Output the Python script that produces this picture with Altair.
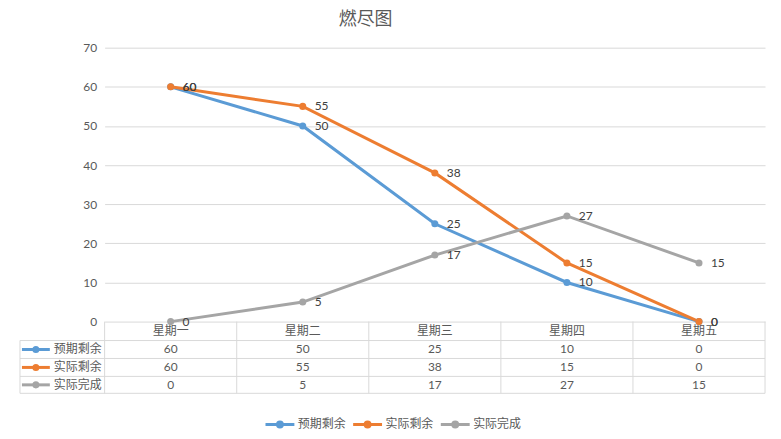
import altair as alt
import pandas as pd

# ---- data ----
categories = ["星期一", "星期二", "星期三", "星期四", "星期五"]
series = ["预期剩余", "实际剩余", "实际完成"]
planned = [60, 50, 25, 10, 0]
actual = [60, 55, 38, 15, 0]
done = [0, 5, 17, 27, 15]
colors = ["#5B9BD5", "#ED7D31", "#A5A5A5"]
y_ticks = [0, 10, 20, 30, 40, 50, 60, 70]
title_text = "燃尽图"

# ---- layout (pixels, relative to plot origin) ----
W, H = 663, 275
YMAX = 70
FONT = "Lato, 'Noto Sans CJK SC', sans-serif"
GRID = "#D9D9D9"
TXT = "#595959"


def yv(p):
    """pixel offset below plot top -> value on the y scale"""
    return (H - p) / H * YMAX


row_centers = [303, 321, 338.5]
header_center = 284.5
row_lines = [294, 312, 330, 347]

rows = []
for s, vals, rc in zip(series, [planned, actual, done], row_centers):
    for i, (c, v) in enumerate(zip(categories, vals)):
        rows.append(dict(series=s, cat=c, idx=i + 0.5, value=v, row_y=yv(rc)))
df = pd.DataFrame(rows)

df_cat = pd.DataFrame({"cat": categories, "idx": [i + 0.5 for i in range(len(categories))]})
df_side = pd.DataFrame({"series": series, "row_y": [yv(p) for p in row_centers]})
df_h = pd.DataFrame({"ly": [yv(p) for p in row_lines]})
df_v = pd.DataFrame({"b": list(range(len(categories) + 1))})
df_one = pd.DataFrame({"k": [0]})
df_title = pd.DataFrame({"t": [title_text]})

xscale = alt.Scale(domain=[0, len(categories)])
yscale = alt.Scale(domain=[0, YMAX], nice=False)
yaxis = alt.Axis(values=y_ticks, grid=True, ticks=False, domain=False, labelPadding=8,
                 labelFontSize=12, labelColor=TXT, labelFont=FONT, gridColor=GRID,
                 gridWidth=1, title=None)

legend = alt.Legend(
    title=None, orient="none", legendX=160, legendY=362, direction="horizontal",
    symbolType="M-1,0H1M0.17,0A0.17,0.17,0,1,1,-0.17,0A0.17,0.17,0,1,1,0.17,0",
    symbolSize=841, symbolStrokeWidth=3, labelFontSize=12, labelColor=TXT,
    labelFont=FONT, labelOffset=2, columnPadding=0,
)
color = alt.Color("series:N", scale=alt.Scale(domain=series, range=colors), legend=legend)


def X(f):
    return alt.X(f, scale=xscale, axis=None)


def Y(f):
    return alt.Y(f, scale=yscale, axis=yaxis)


base = alt.Chart(df)

lines = base.mark_line(strokeWidth=3).encode(x=X("idx:Q"), y=Y("value:Q"), color=color)
points = base.mark_point(filled=True, size=50, opacity=1).encode(
    x=X("idx:Q"), y=Y("value:Q"), color=color)
labels = base.mark_text(align="left", baseline="middle", dx=12, fontSize=12,
                        font=FONT, color="#404040").encode(
    x=X("idx:Q"), y=Y("value:Q"), text="value:Q")

header = alt.Chart(df_cat).mark_text(baseline="middle", fontSize=12, font=FONT, color=TXT).encode(
    x=X("idx:Q"), y=alt.value(header_center), text="cat:N")
cells = base.mark_text(baseline="middle", fontSize=12, font=FONT, color=TXT).encode(
    x=X("idx:Q"), y=Y("row_y:Q"), text="value:Q")

hlines = alt.Chart(df_h).mark_rule(color=GRID, strokeWidth=1).encode(
    x=alt.value(-85), x2=alt.value(W), y=Y("ly:Q"))
vlines = alt.Chart(df_v).mark_rule(color=GRID, strokeWidth=1).encode(
    x=X("b:Q"), y=alt.value(H), y2=alt.value(row_lines[-1]))
lborder = alt.Chart(df_one).mark_rule(color=GRID, strokeWidth=1).encode(
    x=alt.value(-85), y=alt.value(row_lines[0]), y2=alt.value(row_lines[-1]))

side_rule = alt.Chart(df_side).mark_rule(strokeWidth=3).encode(
    x=alt.value(-83), x2=alt.value(-55), y=Y("row_y:Q"), color=color)
side_pt = alt.Chart(df_side).mark_point(filled=True, size=50, opacity=1).encode(
    x=alt.value(-69), y=Y("row_y:Q"), color=color)
side_txt = alt.Chart(df_side).mark_text(align="left", baseline="middle", fontSize=12,
                                        font=FONT, color=TXT).encode(
    x=alt.value(-51), y=Y("row_y:Q"), text="series:N")

title = alt.Chart(df_title).mark_text(align="center", baseline="middle", fontSize=18,
                                      font=FONT, color=TXT).encode(
    x=alt.value(262), y=alt.value(-28), text="t:N")

chart = alt.layer(
    hlines, vlines, lborder, header, cells, side_rule, side_pt, side_txt,
    lines, points, labels, title,
).properties(
    width=W, height=H,
    autosize=alt.AutoSizeParams(type="none"),
    padding={"left": 97, "top": 39, "right": 8, "bottom": 112},
    background="white",
).configure_view(stroke=None)

chart.save("out.html", embed_options={"renderer": "svg", "actions": False})
